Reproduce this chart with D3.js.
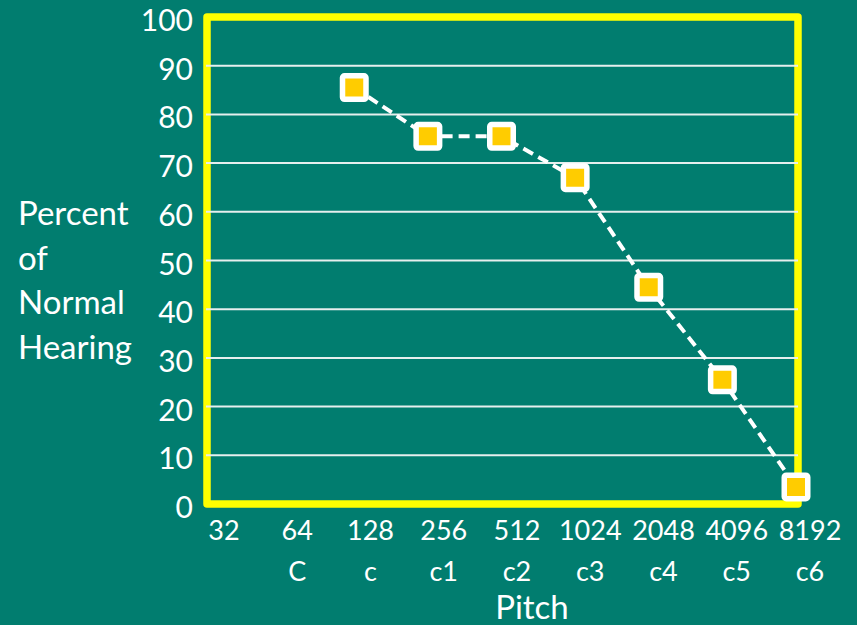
<!DOCTYPE html>
<html>
<head>
<meta charset="utf-8">
<script src="https://cdn.jsdelivr.net/npm/d3@7/dist/d3.min.js"></script>
<style>
  html, body { margin: 0; padding: 0; background: #017D6F; }
  svg { display: block; }
  text { font-family: Lato, "Open Sans", sans-serif; fill: #ffffff; }
</style>
</head>
<body>
<svg id="chart" width="857" height="625"></svg>
<script>
// Pitch categories (Hz) and their note names
const pitches = [32, 64, 128, 256, 512, 1024, 2048, 4096, 8192];
const noteNames = ["", "C", "c", "c1", "c2", "c3", "c4", "c5", "c6"];

// Measured hearing, percent of normal, at each tested pitch
const measuredPitches = [128, 256, 512, 1024, 2048, 4096, 8192];
const hearingPercent = [85.5, 75.5, 75.5, 67, 44.5, 25.5, 3.5];

// Value axis ticks and titles
const yTicks = [0, 10, 20, 30, 40, 50, 60, 70, 80, 90, 100];
const yTitleLines = ["Percent", "of", "Normal", "Hearing"];
const xTitle = "Pitch";

const svg = d3.select("#chart");
const W = 857, H = 625;
const plot = { left: 207, right: 798, top: 17, bottom: 504 };

svg.append("rect").attr("width", W).attr("height", H).attr("fill", "#017D6F");

const x = d3.scaleLog().base(2)
  .domain([pitches[0], pitches[pitches.length - 1]])
  .range([plot.left, plot.right - 2]);
const y = d3.scaleLinear().domain([0, 100]).range([plot.bottom, plot.top]);

// Tick labels sit in a row slightly offset from the data positions
const xLabel = d3.scalePoint().domain(pitches).range([224, 810]);

// Plot frame
svg.append("rect")
  .attr("x", plot.left).attr("y", plot.top)
  .attr("width", plot.right - plot.left).attr("height", plot.bottom - plot.top)
  .attr("fill", "none")
  .attr("stroke", "#FFFF00")
  .attr("stroke-width", 7.5)
  .attr("stroke-linejoin", "round");

// Horizontal gridlines
svg.append("g")
  .selectAll("line")
  .data(yTicks.filter(t => t > 0 && t < 100))
  .join("line")
  .attr("x1", plot.left - 1).attr("x2", plot.right)
  .attr("y1", d => y(d)).attr("y2", d => y(d))
  .attr("stroke", "#e6efee")
  .attr("stroke-width", 2);

// Y axis tick labels
svg.append("g")
  .selectAll("text")
  .data(yTicks)
  .join("text")
  .attr("x", 193)
  .attr("y", d => y(d) + 2)
  .attr("text-anchor", "end")
  .attr("dominant-baseline", "central")
  .attr("font-size", 30)
  .text(d => d);

// X axis labels: frequency and note name
const xl = svg.append("g");
xl.selectAll("text.freq")
  .data(pitches)
  .join("text")
  .attr("class", "freq")
  .attr("x", d => xLabel(d))
  .attr("y", 540)
  .attr("text-anchor", "middle")
  .attr("font-size", 27)
  .text(d => d);
xl.selectAll("text.note")
  .data(pitches)
  .join("text")
  .attr("class", "note")
  .attr("x", d => xLabel(d))
  .attr("y", 581)
  .attr("text-anchor", "middle")
  .attr("font-size", 27)
  .text((d, i) => noteNames[i]);

// Axis titles
svg.append("text")
  .attr("x", 532).attr("y", 619)
  .attr("text-anchor", "middle")
  .attr("font-size", 33)
  .text(xTitle);

svg.append("g")
  .selectAll("text")
  .data(yTitleLines)
  .join("text")
  .attr("x", 18)
  .attr("y", (d, i) => 225 + i * 44.5)
  .attr("font-size", 33)
  .text(d => d);

// Dashed connecting line
const pts = measuredPitches.map((p, i) => [x(p), y(hearingPercent[i])]);
svg.append("path")
  .attr("d", d3.line()(pts))
  .attr("fill", "none")
  .attr("stroke", "#ffffff")
  .attr("stroke-width", 4)
  .attr("stroke-dasharray", "11,6");

// Square markers
const size = 23.5;
svg.append("g")
  .selectAll("rect")
  .data(pts)
  .join("rect")
  .attr("x", d => d[0] - size / 2)
  .attr("y", d => d[1] - size / 2)
  .attr("width", size).attr("height", size)
  .attr("rx", 2)
  .attr("fill", "#FFCC00")
  .attr("stroke", "#ffffff")
  .attr("stroke-width", 5.5);
</script>
</body>
</html>
